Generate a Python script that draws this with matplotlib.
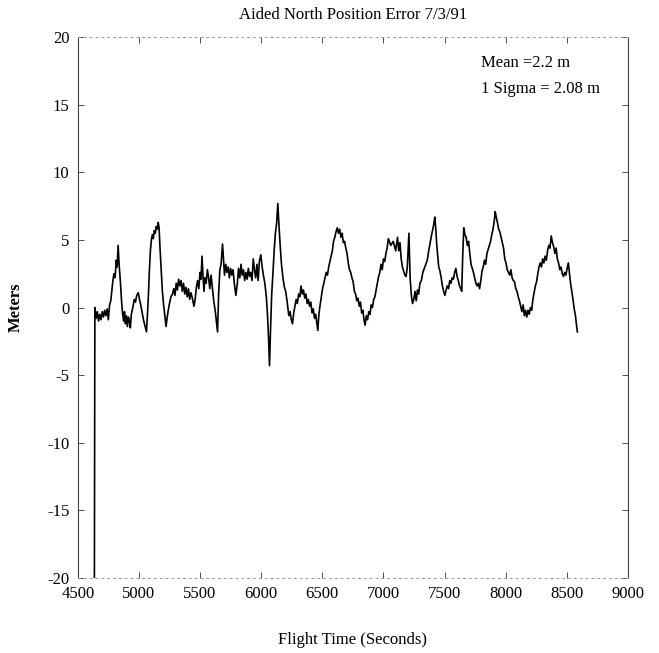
import matplotlib
matplotlib.use("Agg")
import matplotlib.pyplot as plt

plt.rcParams['font.family'] = ['Liberation Serif', 'DejaVu Serif']
plt.rcParams['axes.unicode_minus'] = False

# flight time (s) and aided north position error (m)
flight_time = [
    4636, 4640, 4650, 4660, 4670, 4680, 4690, 4700, 4710, 4720, 4730, 4740, 4750, 4760,
    4770, 4785, 4795, 4805, 4815, 4822, 4830, 4838, 4848, 4858, 4866, 4875, 4882, 4890,
    4898, 4906, 4914, 4922, 4930, 4938, 4950, 4962, 4972, 4982, 4995, 5005, 5015, 5025,
    5035, 5048, 5062, 5070, 5078, 5086, 5094, 5102, 5110, 5118, 5126, 5134, 5142, 5150,
    5158, 5165, 5172, 5182, 5192, 5202, 5212, 5222, 5230, 5240, 5250, 5262, 5275, 5285,
    5295, 5305, 5315, 5325, 5335, 5345, 5355, 5365, 5375, 5385, 5395, 5405, 5415, 5425,
    5437, 5450, 5460, 5470, 5480, 5490, 5500, 5508, 5516, 5524, 5532, 5540, 5550, 5560,
    5570, 5580, 5590, 5600, 5612, 5625, 5635, 5643, 5652, 5662, 5672, 5684, 5692, 5700,
    5710, 5720, 5730, 5740, 5750, 5760, 5770, 5780, 5793, 5805, 5815, 5825, 5835, 5845,
    5855, 5865, 5875, 5885, 5895, 5905, 5915, 5925, 5935, 5945, 5955, 5965, 5975, 5985,
    5997, 6008, 6018, 6030, 6042, 6052, 6060, 6068, 6076, 6086, 6096, 6106, 6116, 6126,
    6136, 6146, 6156, 6166, 6178, 6190, 6200, 6210, 6218, 6226, 6236, 6246, 6256, 6266,
    6276, 6286, 6296, 6306, 6316, 6326, 6336, 6346, 6356, 6366, 6376, 6386, 6396, 6406,
    6416, 6426, 6436, 6446, 6456, 6463, 6472, 6482, 6492, 6502, 6512, 6522, 6532, 6542,
    6552, 6562, 6572, 6582, 6592, 6602, 6612, 6622, 6632, 6642, 6652, 6662, 6672, 6682,
    6692, 6702, 6712, 6722, 6732, 6742, 6752, 6762, 6772, 6782, 6792, 6802, 6812, 6822,
    6832, 6842, 6850, 6860, 6870, 6880, 6890, 6900, 6910, 6920, 6930, 6940, 6950, 6960,
    6970, 6980, 6990, 7000, 7010, 7020, 7030, 7040, 7060, 7080, 7100, 7115, 7125, 7135,
    7145, 7155, 7165, 7175, 7185, 7195, 7208, 7218, 7228, 7238, 7248, 7258, 7268, 7278,
    7288, 7298, 7310, 7322, 7334, 7346, 7358, 7370, 7382, 7394, 7406, 7414, 7420, 7428,
    7436, 7444, 7452, 7462, 7472, 7482, 7492, 7502, 7512, 7522, 7532, 7542, 7552, 7562,
    7572, 7582, 7592, 7602, 7612, 7622, 7632, 7640, 7648, 7657, 7666, 7676, 7686, 7696,
    7706, 7716, 7726, 7736, 7746, 7756, 7766, 7776, 7786, 7796, 7806, 7816, 7826, 7836,
    7846, 7856, 7866, 7876, 7886, 7896, 7906, 7914, 7922, 7932, 7942, 7952, 7962, 7972,
    7982, 7992, 8002, 8012, 8022, 8032, 8042, 8052, 8062, 8072, 8082, 8092, 8102, 8112,
    8122, 8132, 8142, 8152, 8162, 8172, 8182, 8192, 8202, 8212, 8222, 8232, 8242, 8252,
    8262, 8272, 8282, 8292, 8302, 8312, 8322, 8332, 8342, 8352, 8362, 8372, 8382, 8392,
    8402, 8412, 8422, 8432, 8442, 8452, 8462, 8472, 8482, 8492, 8502, 8512, 8520, 8530,
    8540, 8550, 8560, 8570, 8580, 8586,
]
north_error = [
    -20.0, 0.0, -0.8, -0.3, -1.0, -0.5, -0.9, -0.3, -0.7, -0.2, -0.6, -0.1, -0.9, 0.2,
    0.5, 1.8, 2.5, 2.2, 3.5, 3.0, 4.6, 3.2, 2.0, 0.5, -0.4, -1.0, -0.3, -1.2,
    -0.6, -1.4, -0.7, -1.0, -1.5, -0.5, 0.0, 0.6, 0.4, 0.9, 1.1, 0.6, 0.2, -0.3,
    -0.8, -1.3, -1.8, -0.5, 1.0, 2.8, 4.2, 5.0, 5.4, 5.1, 5.7, 5.5, 6.0, 5.8,
    6.3, 5.9, 4.5, 2.8, 1.2, 0.2, -0.6, -1.4, -0.8, -0.2, 0.3, 0.8, 1.0, 1.4,
    0.9, 1.8, 1.3, 2.1, 1.6, 2.0, 1.2, 1.8, 1.0, 1.5, 0.8, 1.4, 0.6, 1.1,
    0.7, 0.1, 0.6, 1.5, 2.0, 1.4, 2.6, 2.1, 3.8, 2.4, 1.2, 2.2, 1.8, 2.8,
    2.2, 1.4, 2.4, 1.5, 0.5, -0.3, -1.1, -1.8, 1.0, 2.8, 3.2, 4.7, 3.6, 2.4,
    3.2, 2.6, 3.0, 2.2, 2.9, 2.4, 2.8, 1.8, 0.9, 1.8, 2.9, 2.2, 3.2, 2.4,
    2.8, 2.0, 2.6, 2.1, 2.9, 2.3, 2.6, 2.0, 3.6, 2.8, 2.2, 3.2, 2.0, 3.4,
    3.9, 3.0, 2.4, 1.8, 0.8, -0.6, -2.2, -4.3, -1.8, 1.0, 2.5, 4.2, 5.5, 6.2,
    7.7, 6.0, 4.5, 3.2, 2.2, 1.5, 1.2, 0.6, 0.0, -0.6, -0.3, -0.9, -1.2, -0.4,
    0.1, 0.6, 0.3, 1.0, 0.8, 1.6, 1.0, 1.3, 0.7, 1.0, 0.3, 0.6, 0.1, 0.4,
    -0.4, -0.1, -0.8, -0.5, -1.2, -1.7, -0.5, 0.2, 0.8, 1.4, 1.8, 2.2, 2.6, 2.4,
    3.0, 3.4, 3.8, 4.2, 4.9, 5.2, 5.6, 5.9, 5.5, 5.8, 5.2, 5.5, 4.8, 4.9,
    4.4, 4.0, 3.3, 2.8, 2.6, 2.2, 1.9, 1.2, 1.0, 0.5, 0.7, 0.1, 0.4, -0.4,
    -0.2, -1.0, -1.3, -0.6, -0.9, -0.3, -0.5, 0.2, 0.0, 0.6, 0.8, 1.3, 1.8, 2.3,
    2.6, 3.2, 2.8, 3.6, 3.4, 4.0, 4.4, 5.1, 4.6, 4.9, 4.2, 5.2, 4.2, 4.8,
    3.6, 3.0, 2.7, 2.4, 2.3, 3.0, 5.5, 2.2, 0.9, 0.3, 0.6, 1.2, 0.5, 1.3,
    1.0, 1.8, 2.0, 2.6, 2.9, 3.2, 3.5, 4.2, 4.8, 5.4, 5.9, 6.3, 6.7, 5.8,
    4.6, 3.8, 3.0, 2.7, 2.2, 1.6, 1.2, 0.9, 1.3, 1.6, 1.4, 2.0, 1.8, 2.2,
    2.1, 2.6, 2.9, 2.3, 2.0, 1.6, 1.4, 1.2, 3.8, 5.9, 5.4, 5.2, 4.6, 4.9,
    4.0, 3.2, 2.9, 2.6, 2.2, 1.8, 1.6, 1.8, 1.4, 2.0, 2.7, 3.0, 3.5, 3.2,
    4.0, 4.3, 4.6, 4.9, 5.4, 5.8, 6.4, 7.1, 6.7, 6.3, 5.8, 5.6, 5.2, 4.8,
    4.4, 3.6, 3.3, 2.8, 2.6, 2.4, 2.8, 2.2, 2.0, 1.9, 1.4, 1.2, 0.8, 0.5,
    0.1, -0.3, 0.2, -0.6, -0.2, -0.7, -0.2, -0.5, 0.0, -0.2, 0.6, 1.1, 1.6, 1.9,
    2.5, 3.0, 3.3, 3.0, 3.6, 3.3, 3.8, 3.5, 4.2, 4.6, 4.4, 5.3, 4.8, 4.5,
    4.0, 4.4, 3.6, 3.3, 2.8, 3.0, 2.5, 2.3, 2.6, 2.4, 2.9, 3.3, 2.6, 1.8,
    1.2, 0.6, -0.1, -0.6, -1.4, -1.8,
]

x_ticks = list(range(4500, 9001, 500))
y_ticks = list(range(-20, 21, 5))

fig = plt.figure(figsize=(6.59, 6.53), dpi=100)
ax = fig.add_axes([0.118, 0.115, 0.835, 0.828])

ax.plot(flight_time, north_error, color='black', lw=1.2)

ax.set_xlim(4500, 9000)
ax.set_ylim(-20, 20)
ax.set_xticks(x_ticks)
ax.set_yticks(y_ticks)
ax.tick_params(direction='in', length=4, width=0.6, colors='#333333',
               labelcolor='black', labelsize=12, top=True, right=True, pad=6)

for side in ['left', 'right']:
    ax.spines[side].set_color('#444444')
    ax.spines[side].set_linewidth(0.8)
for side in ['top', 'bottom']:
    ax.spines[side].set_color('#999999')
    ax.spines[side].set_linewidth(0.7)
    ax.spines[side].set_linestyle((0, (2, 4)))

ax.text(7800, 18.1, 'Mean =2.2 m', fontsize=12, va='center')
ax.text(7800, 16.2, '1 Sigma = 2.08 m', fontsize=12, va='center')

fig.text(0.535, 0.977, 'Aided North Position Error 7/3/91', ha='center', va='center', fontsize=12)
fig.text(0.535, 0.02, 'Flight Time (Seconds)', ha='center', va='center', fontsize=12)
fig.text(0.024, 0.53, 'Meters', rotation=90, ha='center', va='center',
         fontsize=12, fontweight='bold')

fig.savefig('out.png', dpi=100)
